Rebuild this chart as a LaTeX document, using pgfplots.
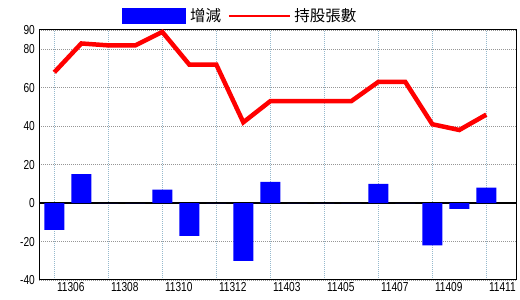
\documentclass[border=0pt]{standalone}
\usepackage{fontspec}
\setmainfont{Liberation Sans}
\newfontfamily\tickfont[FakeStretch=0.78]{Liberation Sans}
\newfontfamily\cjk{Noto Sans CJK TC}
\usepackage{pgfplots}
\pgfplotsset{compat=1.18}
\usepackage{pgfplotstable}
\definecolor{gridblue}{RGB}{150,185,205}
\definecolor{gridgray}{RGB}{150,150,150}
\definecolor{pureRed}{RGB}{255,0,0}

\pgfplotstableread{
x d h
0 -14 68
1 15 83
2 0 82
3 0 82
4 7 89
5 -17 72
6 0 72
7 -30 42
8 11 53
9 0 53
10 0 53
11 0 53
12 10 63
13 0 63
14 -22 41
15 -3 38
16 8 46
}\data

\begin{document}
\begin{tikzpicture}
\useasboundingbox (0,0) rectangle (520pt,300pt);
\begin{axis}[
  at={(39pt,20pt)}, anchor=south west,
  scale only axis, width=477pt, height=250pt,
  xmin=-0.567, xmax=17.1, ymin=-40, ymax=90,
  ytick={-40,-20,0,20,40,60,80,90},
  xtick={0,2,...,16},
  xticklabels={11306,11308,11310,11312,11403,11405,11407,11409,11411},
  major tick length=0pt,
  xmajorgrids, ymajorgrids,
  x grid style={color=gridblue, line width=0.8pt, dash pattern=on 1pt off 1pt},
  y grid style={color=gridgray, line width=0.8pt, dash pattern=on 1pt off 1pt},
  extra y ticks={0}, extra y tick labels={},
  extra y tick style={ymajorgrids=true, y grid style={black, solid, line width=1.3pt}},
  axis line style={black, line width=1pt},
  /pgf/number format/assume math mode=true,
  xticklabel style={font=\tickfont\fontsize{13}{14}\selectfont, anchor=north west, inner sep=0pt, xshift=2.5pt, yshift=-2pt},
  yticklabel style={font=\tickfont\fontsize{13}{14}\selectfont, anchor=east, inner sep=0pt, xshift=-4pt},
  legend style={at={(axis description cs:0.174,1.056)}, anchor=west, draw=none, fill=none,
    inner sep=0pt, font=\cjk\fontsize{15.5}{16}\selectfont,
    nodes={inner sep=0pt},
    /tikz/every odd column/.append style={column sep=4pt},
    /tikz/every even column/.append style={column sep=7pt}},
  legend columns=-1,
]
\addplot[ybar, bar width=20pt, bar shift=0pt, fill=blue, draw=none,
  legend image code/.code={\fill[blue] (0pt,-8pt) rectangle (64pt,8pt);}]
  table[x=x, y=d]{\data};
\addlegendentry{增減}
\addplot[color=pureRed, line width=4.5pt, mark=none,
  legend image code/.code={\draw[draw=pureRed, line width=1.3pt] (0pt,0pt) -- (61pt,0pt);}]
  table[x=x, y=h]{\data};
\addlegendentry{持股張數}
\end{axis}
\end{tikzpicture}
\end{document}
